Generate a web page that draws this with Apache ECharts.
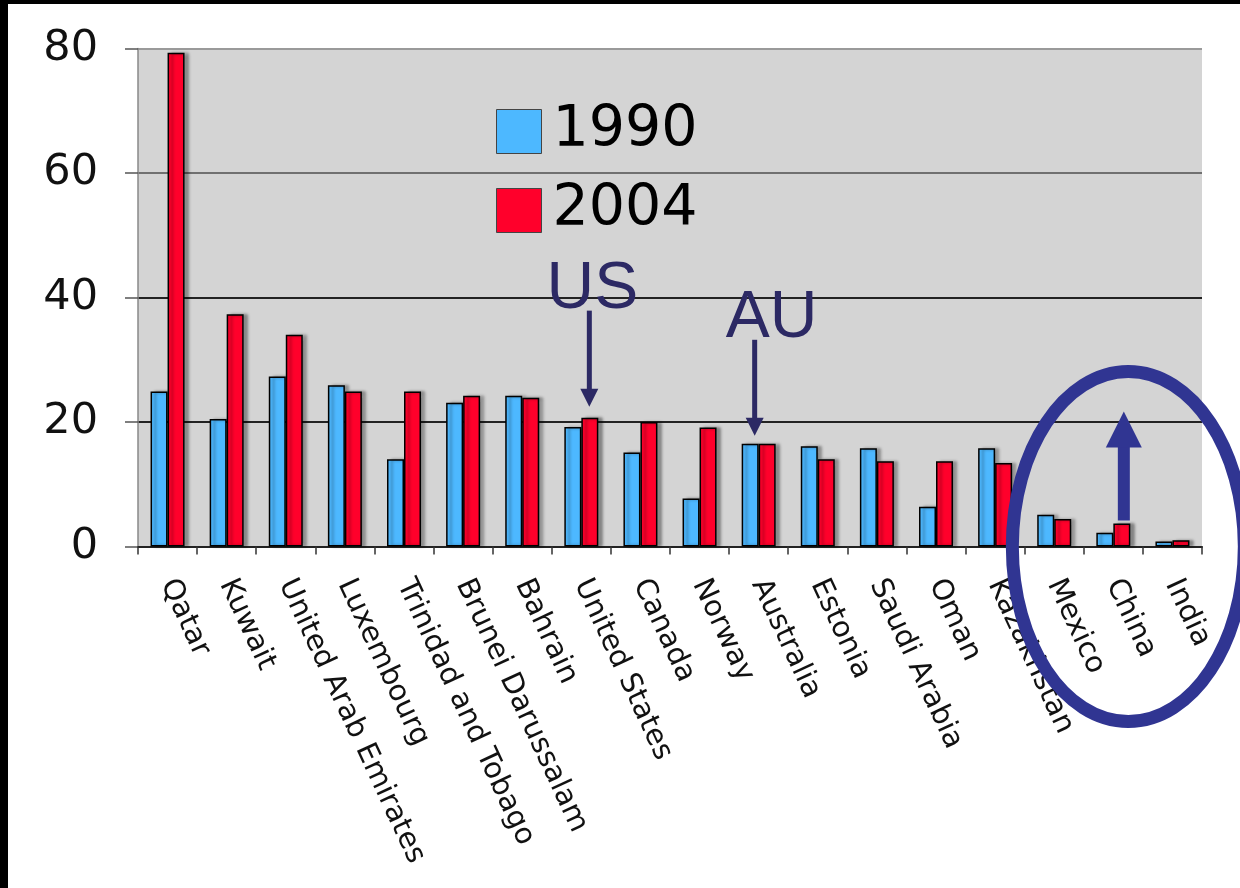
<!DOCTYPE html>
<html>
<head>
<meta charset="utf-8">
<script src="https://cdn.jsdelivr.net/npm/echarts@6/dist/echarts.min.js"></script>
<style>
  html, body { margin: 0; padding: 0; background: #fff; }
  #chart { position: absolute; left: 0; top: 0; width: 1240px; height: 888px; }
  .frameL { position: absolute; left: 0; top: 0; width: 8px; height: 888px; background: #000; }
  .frameT { position: absolute; left: 0; top: 0; width: 1240px; height: 4px; background: #000; }
</style>
</head>
<body>
<div id="chart"></div>
<div class="frameL"></div>
<div class="frameT"></div>
<script>
var categories = ['Qatar', 'Kuwait', 'United Arab Emirates', 'Luxembourg', 'Trinidad and Tobago',
  'Brunei Darussalam', 'Bahrain', 'United States', 'Canada', 'Norway', 'Australia', 'Estonia',
  'Saudi Arabia', 'Oman', 'Kazakhstan', 'Mexico', 'China', 'India'];
var values1990 = [24.9, 20.5, 27.3, 25.9, 14.0, 23.1, 24.2, 19.2, 15.1, 7.7, 16.5, 16.1, 15.8, 6.4, 15.8, 5.1, 2.2, 0.8];
var values2004 = [79.3, 37.3, 34.0, 24.9, 24.9, 24.2, 23.9, 20.7, 20.0, 19.1, 16.5, 14.0, 13.7, 13.7, 13.4, 4.4, 3.7, 1.0];
var yTicks = [0, 20, 40, 60, 80];

var chart = echarts.init(document.getElementById('chart'), null, { renderer: 'canvas' });

var barShadow = {
  borderColor: '#000', borderWidth: 1.5,
  shadowColor: 'rgba(0,0,0,0.35)', shadowBlur: 3, shadowOffsetX: 4, shadowOffsetY: 0
};

var option = {
  animation: false,
  backgroundColor: '#ffffff',
  grid: {
    left: 138, right: 38, top: 48.5, bottom: 341.5,
    show: true, backgroundColor: '#d4d4d4', borderWidth: 0
  },
  legend: {
    orient: 'vertical', left: 491, top: 98,
    itemWidth: 45, itemHeight: 44, itemGap: 22,
    icon: 'rect',
    itemStyle: { borderColor: '#444', borderWidth: 1, shadowBlur: 0, shadowOffsetX: 0, shadowColor: 'transparent' },
    textStyle: { fontFamily: 'DejaVu Sans', fontSize: 57, color: '#000', padding: [0, 0, 0, 6] },
    data: ['1990', '2004']
  },
  xAxis: {
    type: 'category',
    data: categories,
    axisLine: { show: true, lineStyle: { color: '#222', width: 2 } },
    axisTick: { show: true, length: 8, lineStyle: { color: '#333', width: 1.5 } },
    axisLabel: {
      interval: 0, rotate: -65, margin: 34,
      fontFamily: 'DejaVu Sans', fontSize: 29, color: '#111'
    }
  },
  yAxis: {
    type: 'value', min: yTicks[0], max: yTicks[yTicks.length - 1], interval: 20,
    axisLine: { show: true, lineStyle: { color: '#888', width: 1.5 } },
    axisTick: { show: true, length: 13, lineStyle: { color: '#555', width: 1.5 } },
    axisLabel: { margin: 40, fontFamily: 'DejaVu Sans', fontSize: 43, color: '#111' },
    splitLine: { show: true, lineStyle: { color: ['#222', '#222', '#222', '#707070', '#9a9a9a'], width: 1.8 } }
  },
  series: [
    {
      name: '1990', type: 'bar', data: values1990,
      barWidth: 17, barGap: '0%',
      itemStyle: Object.assign({ color: '#4db8ff' }, barShadow)
    },
    {
      name: '2004', type: 'bar', data: values2004,
      barWidth: 17, barGap: '0%',
      itemStyle: Object.assign({ color: '#ff002b' }, barShadow)
    }
  ]
};
chart.setOption(option);

// Annotations anchored to data positions
function px(cat, val) { return chart.convertToPixel({ gridIndex: 0 }, [cat, val]); }
var navy = '#2c2964';
var blueInk = '#303592';

function downArrow(cat, val, dx, gap, text, textDx) {
  var p = px(cat, val);
  var x = p[0] + dx;
  var tip = p[1] - gap;
  var headH = 18, headW = 9, shaft = 78;
  var top = tip - headH - shaft;
  return [
    { type: 'line', shape: { x1: x, y1: top, x2: x, y2: tip - headH + 2 }, style: { stroke: navy, lineWidth: 5 }, z: 100 },
    { type: 'polygon', shape: { points: [[x - headW, tip - headH], [x + headW, tip - headH], [x, tip]] }, style: { fill: navy }, z: 100 },
    { type: 'text', x: x + textDx, y: top + 12, style: { text: text, fill: navy, fontFamily: 'Liberation Sans', fontSize: 66, textAlign: 'center', textVerticalAlign: 'bottom' }, z: 100 }
  ];
}

var g = [];
g = g.concat(downArrow('United States', values2004[7], 8, 11, 'US', 3));
g = g.concat(downArrow('Australia', values2004[10], -4, 8, 'AU', 17));

// China up arrow
var pc = px('China', values2004[16]);
var cx = pc[0] + 10.5;
var base = pc[1] - 3;
g.push({ type: 'rect', shape: { x: cx - 6, y: base - 75, width: 12, height: 75 }, style: { fill: blueInk }, z: 100 });
g.push({ type: 'polygon', shape: { points: [[cx - 18, base - 73], [cx + 18, base - 73], [cx, base - 109]] }, style: { fill: blueInk }, z: 100 });

// Ellipse around Mexico, China, India
var pm = px('China', 0);
g.push({ type: 'ellipse', shape: { cx: pm[0] + 15, cy: pm[1], rx: 116, ry: 175 }, style: { fill: 'none', stroke: blueInk, lineWidth: 13 }, z: 100 });

chart.setOption({ graphic: { elements: g } });
</script>
</body>
</html>
